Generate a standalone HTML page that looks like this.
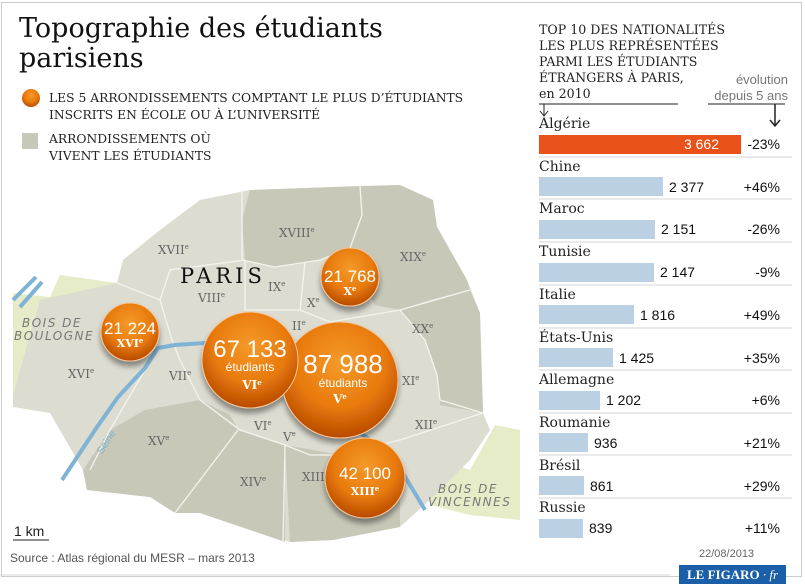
<!DOCTYPE html>
<html><head><meta charset="utf-8"><style>
body{margin:0;background:#fff;}
.wrap{position:relative;width:805px;height:586px;overflow:hidden;font-family:"Liberation Sans",sans-serif;}
.frame{position:absolute;left:1px;top:2px;width:801px;height:575px;border:1px solid #ccc;box-sizing:border-box;}
.t{position:absolute;white-space:nowrap;}
.serif{font-family:"DejaVu Serif","Liberation Serif",serif;}
</style></head><body><div class="wrap">
<div class="frame"></div>
<svg width="805" height="586" style="position:absolute;left:0;top:0">
<defs>
<radialGradient id="og" cx="50%" cy="35%" r="65%"><stop offset="0" stop-color="#f59a2a"/><stop offset="0.6" stop-color="#e87a0c"/><stop offset="1" stop-color="#b84a00"/></radialGradient>
<filter id="sh" x="-30%" y="-30%" width="160%" height="170%"><feGaussianBlur in="SourceAlpha" stdDeviation="3"/><feOffset dy="5"/><feComponentTransfer><feFuncA type="linear" slope="0.4"/></feComponentTransfer><feMerge><feMergeNode/><feMergeNode in="SourceGraphic"/></feMerge></filter>
</defs>
<path d="M13,293 L50,297 L60,275 L117,283 L95,360 L70,410 L13,407 Z" fill="#e6ecc8"/>
<path d="M440,460 L470,470 L495,425 L520,430 L520,520 L470,515 L430,505 Z" fill="#e6ecc8"/>
<path d="M200,200 L250,190 L400,185 L433,200 L437,227 L467,280 L480,313 L483,413 L490,430 L470,460 L433,497 L400,527 L333,540 L290,542 L200,513 L150,497 L87,490 L83,470 L50,413 L13,407 L13,395 L40,300 L117,283 L123,260 L160,230 Z" fill="#dcdcd1"/>
<path d="M250,190 L360,186 L362,215 L350,248 L320,260 L275,267 L245,260 L242,220 Z" fill="#c8c8b8"/>
<path d="M360,186 L400,185 L433,200 L437,227 L467,280 L470,290 L430,300 L400,310 L375,305 L350,260 L350,248 L362,215 Z" fill="#c8c8b8"/>
<path d="M400,310 L470,290 L480,313 L483,413 L440,405 L437,375 L425,340 Z" fill="#c8c8b8"/>
<path d="M145,410 L200,400 L230,415 L238,430 L210,450 L175,513 L150,497 L87,490 L83,470 L110,430 Z" fill="#c8c8b8"/>
<path d="M238,430 L285,445 L285,542 L200,513 L175,513 L210,450 Z" fill="#c8c8b8"/>
<path d="M285,445 L340,455 L400,470 L400,527 L333,540 L290,542 Z" fill="#c8c8b8"/>
<g stroke="#f4f4ee" stroke-width="1.3" fill="none">
<path d="M242,190 L242,260 L275,267 L320,260 L350,248 L362,215 L360,186"/>
<path d="M117,283 L160,300 L172,340 L180,360"/>
<path d="M160,300 L170,270 L245,260"/>
<path d="M245,260 L245,310 L300,310 L330,322 L400,310 L470,290"/>
<path d="M305,262 L300,310"/>
<path d="M400,310 L425,340 L437,375 L440,400 L483,413"/>
<path d="M180,360 L200,400 L240,430 L285,445 L310,455 L340,455 L400,440 L483,413"/>
<path d="M285,445 L283,542"/>
<path d="M238,430 L175,513"/>
<path d="M145,370 L110,430 L90,470"/>
</g>
<g stroke="#7fb3d5" stroke-width="4" fill="none">
<path d="M62,480 L95,430 L118,397 L145,368 L158,348 L175,345 L205,343 L240,342 L280,360 L330,410 L370,440 L395,460 L425,510"/>
<path d="M13,300 L36,277"/><path d="M20,307 L42,282"/>
</g>
<g font-family="DejaVu Serif,Liberation Serif,serif" font-size="12" fill="#666">
<text x="158" y="254">XVII<tspan font-size="7" dy="-5">e</tspan></text>
<text x="279" y="237">XVIII<tspan font-size="7" dy="-5">e</tspan></text>
<text x="400" y="261">XIX<tspan font-size="7" dy="-5">e</tspan></text>
<text x="268" y="291">IX<tspan font-size="7" dy="-5">e</tspan></text>
<text x="198" y="302">VIII<tspan font-size="7" dy="-5">e</tspan></text>
<text x="307" y="307">X<tspan font-size="7" dy="-5">e</tspan></text>
<text x="292" y="330">II<tspan font-size="7" dy="-5">e</tspan></text>
<text x="412" y="333">XX<tspan font-size="7" dy="-5">e</tspan></text>
<text x="68" y="378">XVI<tspan font-size="7" dy="-5">e</tspan></text>
<text x="169" y="380">VII<tspan font-size="7" dy="-5">e</tspan></text>
<text x="402" y="385">XI<tspan font-size="7" dy="-5">e</tspan></text>
<text x="254" y="430">VI<tspan font-size="7" dy="-5">e</tspan></text>
<text x="283" y="441">V<tspan font-size="7" dy="-5">e</tspan></text>
<text x="415" y="429">XII<tspan font-size="7" dy="-5">e</tspan></text>
<text x="148" y="445">XV<tspan font-size="7" dy="-5">e</tspan></text>
<text x="240" y="486">XIV<tspan font-size="7" dy="-5">e</tspan></text>
<text x="302" y="481">XIII<tspan font-size="7" dy="-5">e</tspan></text>
</g>
<text x="180" y="283" font-family="DejaVu Serif,Liberation Serif,serif" font-size="21" letter-spacing="4" fill="#111">PARIS</text>
<g font-family="DejaVu Sans,Liberation Sans,sans-serif" font-size="12" font-style="italic" fill="#777" letter-spacing="1.5">
<text x="22" y="327">BOIS DE</text><text x="14" y="340">BOULOGNE</text>
<text x="438" y="493">BOIS DE</text><text x="428" y="506">VINCENNES</text>
</g>
<text x="93" y="452" font-size="10" fill="#7fb3d5" transform="rotate(-58 100 445)" font-family="Liberation Sans,sans-serif">Seine</text>
<g filter="url(#sh)" stroke="#f6c79a" stroke-width="1">
<circle cx="130" cy="332" r="29" fill="url(#og)"/>
<circle cx="350" cy="277" r="29" fill="url(#og)"/>
<circle cx="340" cy="380" r="58" fill="url(#og)"/>
<circle cx="250" cy="360" r="48" fill="url(#og)"/>
<circle cx="365" cy="478" r="40" fill="url(#og)"/>
</g>
<g fill="#fff" font-family="Liberation Sans,sans-serif" text-anchor="middle">
<text x="130" y="334" font-size="17">21 224</text><text x="130" y="347" font-size="11" font-family="DejaVu Serif,serif" font-weight="bold">XVI<tspan font-size="7" dy="-4">e</tspan></text>
<text x="350" y="282" font-size="17">21 768</text><text x="350" y="295" font-size="11" font-family="DejaVu Serif,serif" font-weight="bold">X<tspan font-size="7" dy="-4">e</tspan></text>
<text x="250" y="357" font-size="24">67 133</text><text x="250" y="371" font-size="12">étudiants</text><text x="252" y="389" font-size="12" font-family="DejaVu Serif,serif" font-weight="bold">VI<tspan font-size="7" dy="-4">e</tspan></text>
<text x="343" y="373" font-size="26">87 988</text><text x="343" y="387" font-size="12">étudiants</text><text x="340" y="403" font-size="12" font-family="DejaVu Serif,serif" font-weight="bold">V<tspan font-size="7" dy="-4">e</tspan></text>
<text x="365" y="479" font-size="17">42 100</text><text x="365" y="495" font-size="11" font-family="DejaVu Serif,serif" font-weight="bold">XIII<tspan font-size="7" dy="-4">e</tspan></text>
</g>
<line x1="13" y1="540" x2="49" y2="540" stroke="#222"/>
<g stroke="#222" stroke-width="1" fill="none">
<line x1="539" y1="104" x2="678" y2="104"/>
<line x1="708" y1="104" x2="785" y2="104"/>
<path d="M544,104 L544,115 M540,111 L544,116 L548,111"/>
<path d="M775,104 L775,125 M770,120 L775,126 L780,120" stroke-width="1.5"/>
</g>
<g stroke="#d6d6d6">
<line x1="539" y1="157" x2="792" y2="157"/><line x1="539" y1="199" x2="792" y2="199"/>
<line x1="539" y1="242" x2="792" y2="242"/><line x1="539" y1="285" x2="792" y2="285"/>
<line x1="539" y1="328" x2="792" y2="328"/><line x1="539" y1="370" x2="792" y2="370"/>
<line x1="539" y1="413" x2="792" y2="413"/><line x1="539" y1="455" x2="792" y2="455"/>
<line x1="539" y1="498" x2="792" y2="498"/>
<line x1="0" y1="575" x2="670" y2="575"/>
</g>
<circle cx="31" cy="98" r="9" fill="url(#og)"/>
<rect x="22" y="133" width="16" height="16" fill="#c8c8b8"/>
</svg>
<div class="t serif" style="left:19px;top:14px;font-size:27px;line-height:30px;color:#111">Topographie des étudiants<br>parisiens</div>
<div class="t serif" style="left:49px;top:90px;font-size:12.3px;line-height:17px;color:#222">LES 5 ARRONDISSEMENTS COMPTANT LE PLUS D’ÉTUDIANTS<br>INSCRITS EN ÉCOLE OU À L’UNIVERSITÉ</div>
<div class="t serif" style="left:49px;top:131px;font-size:12.3px;line-height:17px;color:#222">ARRONDISSEMENTS OÙ<br>VIVENT LES ÉTUDIANTS</div>
<div class="t" style="left:14px;top:523px;font-size:14px;color:#222">1 km</div>
<div class="t" style="left:10px;top:551px;font-size:12px;color:#555">Source : Atlas régional du MESR – mars 2013</div>
<div class="t serif" style="left:539px;top:22px;font-size:12.6px;line-height:16px;color:#222">TOP 10 DES NATIONALITÉS<br>LES PLUS REPRÉSENTÉES<br>PARMI LES ÉTUDIANTS<br>ÉTRANGERS À PARIS,<br>en 2010</div>
<div class="t" style="left:690px;top:72px;width:98px;text-align:right;font-size:13px;line-height:16px;color:#777">évolution<br>depuis 5 ans</div>
<div id="rows"></div>
<div class="t" style="left:699px;top:548px;font-size:11px;color:#666">22/08/2013</div>
<div class="t" style="left:679px;top:565px;width:107px;height:19px;background:#1b5fa8;color:#fff;font-family:'Liberation Serif',serif;font-weight:bold;font-size:13px;line-height:19px;text-align:center">LE FIGARO<span style="font-style:italic;font-weight:normal"> · fr</span></div>
<script>
var d=[["Algérie",3662,"3 662","-23%",741],["Chine",2377,"2 377","+46%",663],["Maroc",2151,"2 151","-26%",655],["Tunisie",2147,"2 147","-9%",654],["Italie",1816,"1 816","+49%",634],["États-Unis",1425,"1 425","+35%",613],["Allemagne",1202,"1 202","+6%",600],["Roumanie",936,"936","+21%",588],["Brésil",861,"861","+29%",584],["Russie",839,"839","+11%",583]];
var h="";d.forEach(function(r,i){var y=116+i*42.7;var w=r[4]-539;
h+='<div class="t serif" style="left:539px;top:'+(y)+'px;font-size:14px;color:#222">'+r[0]+'</div>';
h+='<div class="t" style="left:539px;top:'+(y+18.5)+'px;width:'+w+'px;height:19px;background:'+(i==0?'#e8521a':'#bcd0e4')+'"></div>';
if(i==0)h+='<div class="t" style="left:539px;top:'+(y+19)+'px;width:'+(w-22)+'px;text-align:right;font-size:14px;line-height:19px;color:#fff">'+r[2]+'</div>';
else h+='<div class="t" style="left:'+(r[4]+6)+'px;top:'+(y+19)+'px;font-size:14px;line-height:19px;color:#111">'+r[2]+'</div>';
h+='<div class="t" style="left:700px;width:80px;text-align:right;top:'+(y+19)+'px;font-size:14px;line-height:19px;color:#111">'+r[3]+'</div>';});
document.getElementById("rows").innerHTML=h;
</script>
</div></body></html>
